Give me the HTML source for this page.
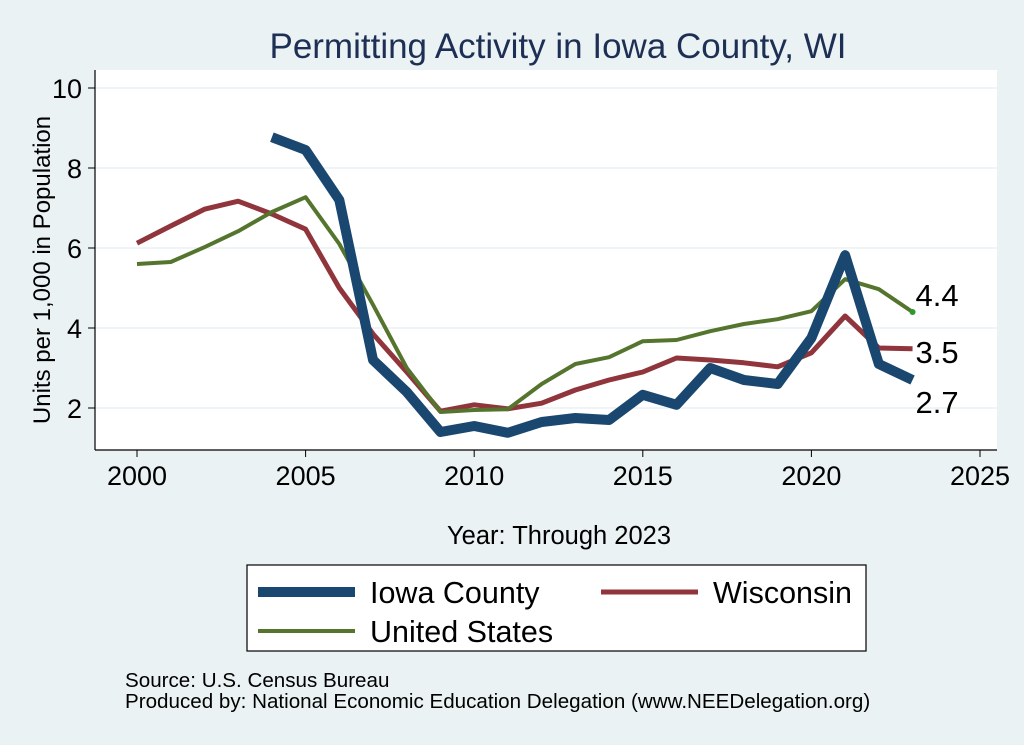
<!DOCTYPE html>
<html><head><meta charset="utf-8"><style>
body{margin:0;background:#eaf2f3;}
svg{display:block;font-family:"Liberation Sans",sans-serif;}
</style></head><body>
<svg id="chart" width="1024" height="745" viewBox="0 0 1024 745">
<rect x="0" y="0" width="1024" height="745" fill="#eaf2f3"/>
<text x="558" y="58" font-size="35" fill="#1e2f55" text-anchor="middle">Permitting Activity in Iowa County, WI</text>
<rect x="95" y="70" width="902" height="380" fill="#fff"/>
<g id="grid"></g>
<line x1="95" y1="70" x2="95" y2="450" stroke="#000" stroke-width="1.2"/>
<line x1="95" y1="450" x2="997" y2="450" stroke="#000" stroke-width="1.2"/>
<g id="ticks"></g>
<g id="series"></g>
<text x="50" y="270" font-size="24" text-anchor="middle" transform="rotate(-90 50 270)">Units per 1,000 in Population</text>
<text x="559" y="544" font-size="25.5" text-anchor="middle">Year: Through 2023</text>
<g>
<rect x="247" y="565" width="619" height="86" fill="#fff" stroke="#000" stroke-width="1.2"/>
<line x1="258" y1="592" x2="355" y2="592" stroke="#1a476f" stroke-width="10"/>
<text x="370" y="603" font-size="30.5">Iowa County</text>
<line x1="601" y1="592" x2="698" y2="592" stroke="#90353b" stroke-width="5"/>
<text x="713" y="603" font-size="30.5">Wisconsin</text>
<line x1="258" y1="631" x2="355" y2="631" stroke="#55752f" stroke-width="4"/>
<text x="370" y="642" font-size="30.5">United States</text>
</g>
<text x="125" y="687" font-size="20.6">Source: U.S. Census Bureau</text>
<text x="125" y="708" font-size="20.6">Produced by: National Economic Education Delegation (www.NEEDelegation.org)</text>
</svg>
<script>
const yearsIowa=[2004,2005,2006,2007,2008,2009,2010,2011,2012,2013,2014,2015,2016,2017,2018,2019,2020,2021,2022,2023];
const iowaValues=[8.77,8.45,7.2,3.2,2.4,1.4,1.55,1.38,1.65,1.75,1.7,2.33,2.08,3.0,2.7,2.6,3.75,5.82,3.1,2.7];
const years=[2000,2001,2002,2003,2004,2005,2006,2007,2008,2009,2010,2011,2012,2013,2014,2015,2016,2017,2018,2019,2020,2021,2022,2023];
const wiValues=[6.12,6.55,6.97,7.17,6.85,6.47,5.0,3.85,2.9,1.92,2.08,1.98,2.12,2.45,2.7,2.9,3.25,3.2,3.13,3.03,3.38,4.3,3.5,3.48];
const usValues=[5.6,5.65,6.02,6.42,6.9,7.27,6.1,4.58,3.0,1.9,1.95,1.97,2.6,3.1,3.27,3.67,3.7,3.92,4.1,4.22,4.42,5.22,4.97,4.4];
const yTicks=[2,4,6,8,10];
const xTicks=[2000,2005,2010,2015,2020,2025];
const NS="http://www.w3.org/2000/svg";
function X(yr){return 137+(yr-2000)*(980-137)/25;}
function Y(v){return 488-40*v;}
function mk(tag,attrs,parent){const e=document.createElementNS(NS,tag);for(const k in attrs)e.setAttribute(k,attrs[k]);parent.appendChild(e);return e;}
const grid=document.getElementById('grid'),ticks=document.getElementById('ticks'),series=document.getElementById('series');
yTicks.forEach(v=>{
 const g=mk('line',{x1:95,x2:997,y1:Y(v),y2:Y(v),stroke:'#eaf2f3','stroke-width':1.5},grid);
 
 
 const t=mk('line',{x1:88,x2:95,y1:Y(v),y2:Y(v),stroke:'#000'},ticks);
 
 
 const l=mk('text',{x:82,y:Y(v)+10,'font-size':27,'text-anchor':'end'},ticks);l.textContent=v;
 
 
});
xTicks.forEach(v=>{
 const t=mk('line',{x1:X(v),x2:X(v),y1:450,y2:457,stroke:'#000'},ticks);
 
 
 const l=mk('text',{x:X(v),y:485,'font-size':27,'text-anchor':'middle'},ticks);l.textContent=v;
 
 
});
function line(xs,vs,color,w,name){
 const p=mk('polyline',{points:xs.map((x,i)=>X(x)+','+Y(vs[i])).join(' '),fill:'none',stroke:color,'stroke-width':w,'stroke-linejoin':'round'},series);
 
 
}
line(years,wiValues,'#90353b',5,'line-wisconsin');
line(years,usValues,'#55752f',4,'line-united-states');
line(yearsIowa,iowaValues,'#1a476f',10,'line-iowa-county');
const dot=mk('circle',{cx:X(2023),cy:Y(usValues[usValues.length-1]),r:3,fill:'#2e9a2e'},series);


[[usValues[usValues.length-1],Y(usValues[usValues.length-1])-6,'end-label-us'],[wiValues[wiValues.length-1],Y(wiValues[wiValues.length-1])+14,'end-label-wisconsin'],[iowaValues[iowaValues.length-1],Y(iowaValues[iowaValues.length-1])+33,'end-label-iowa']].forEach(([v,y,n])=>{
 const t=mk('text',{x:X(2023)+3,y:y,'font-size':31},series);t.textContent=v.toFixed(1);
 
 
});
</script>
</body></html>
